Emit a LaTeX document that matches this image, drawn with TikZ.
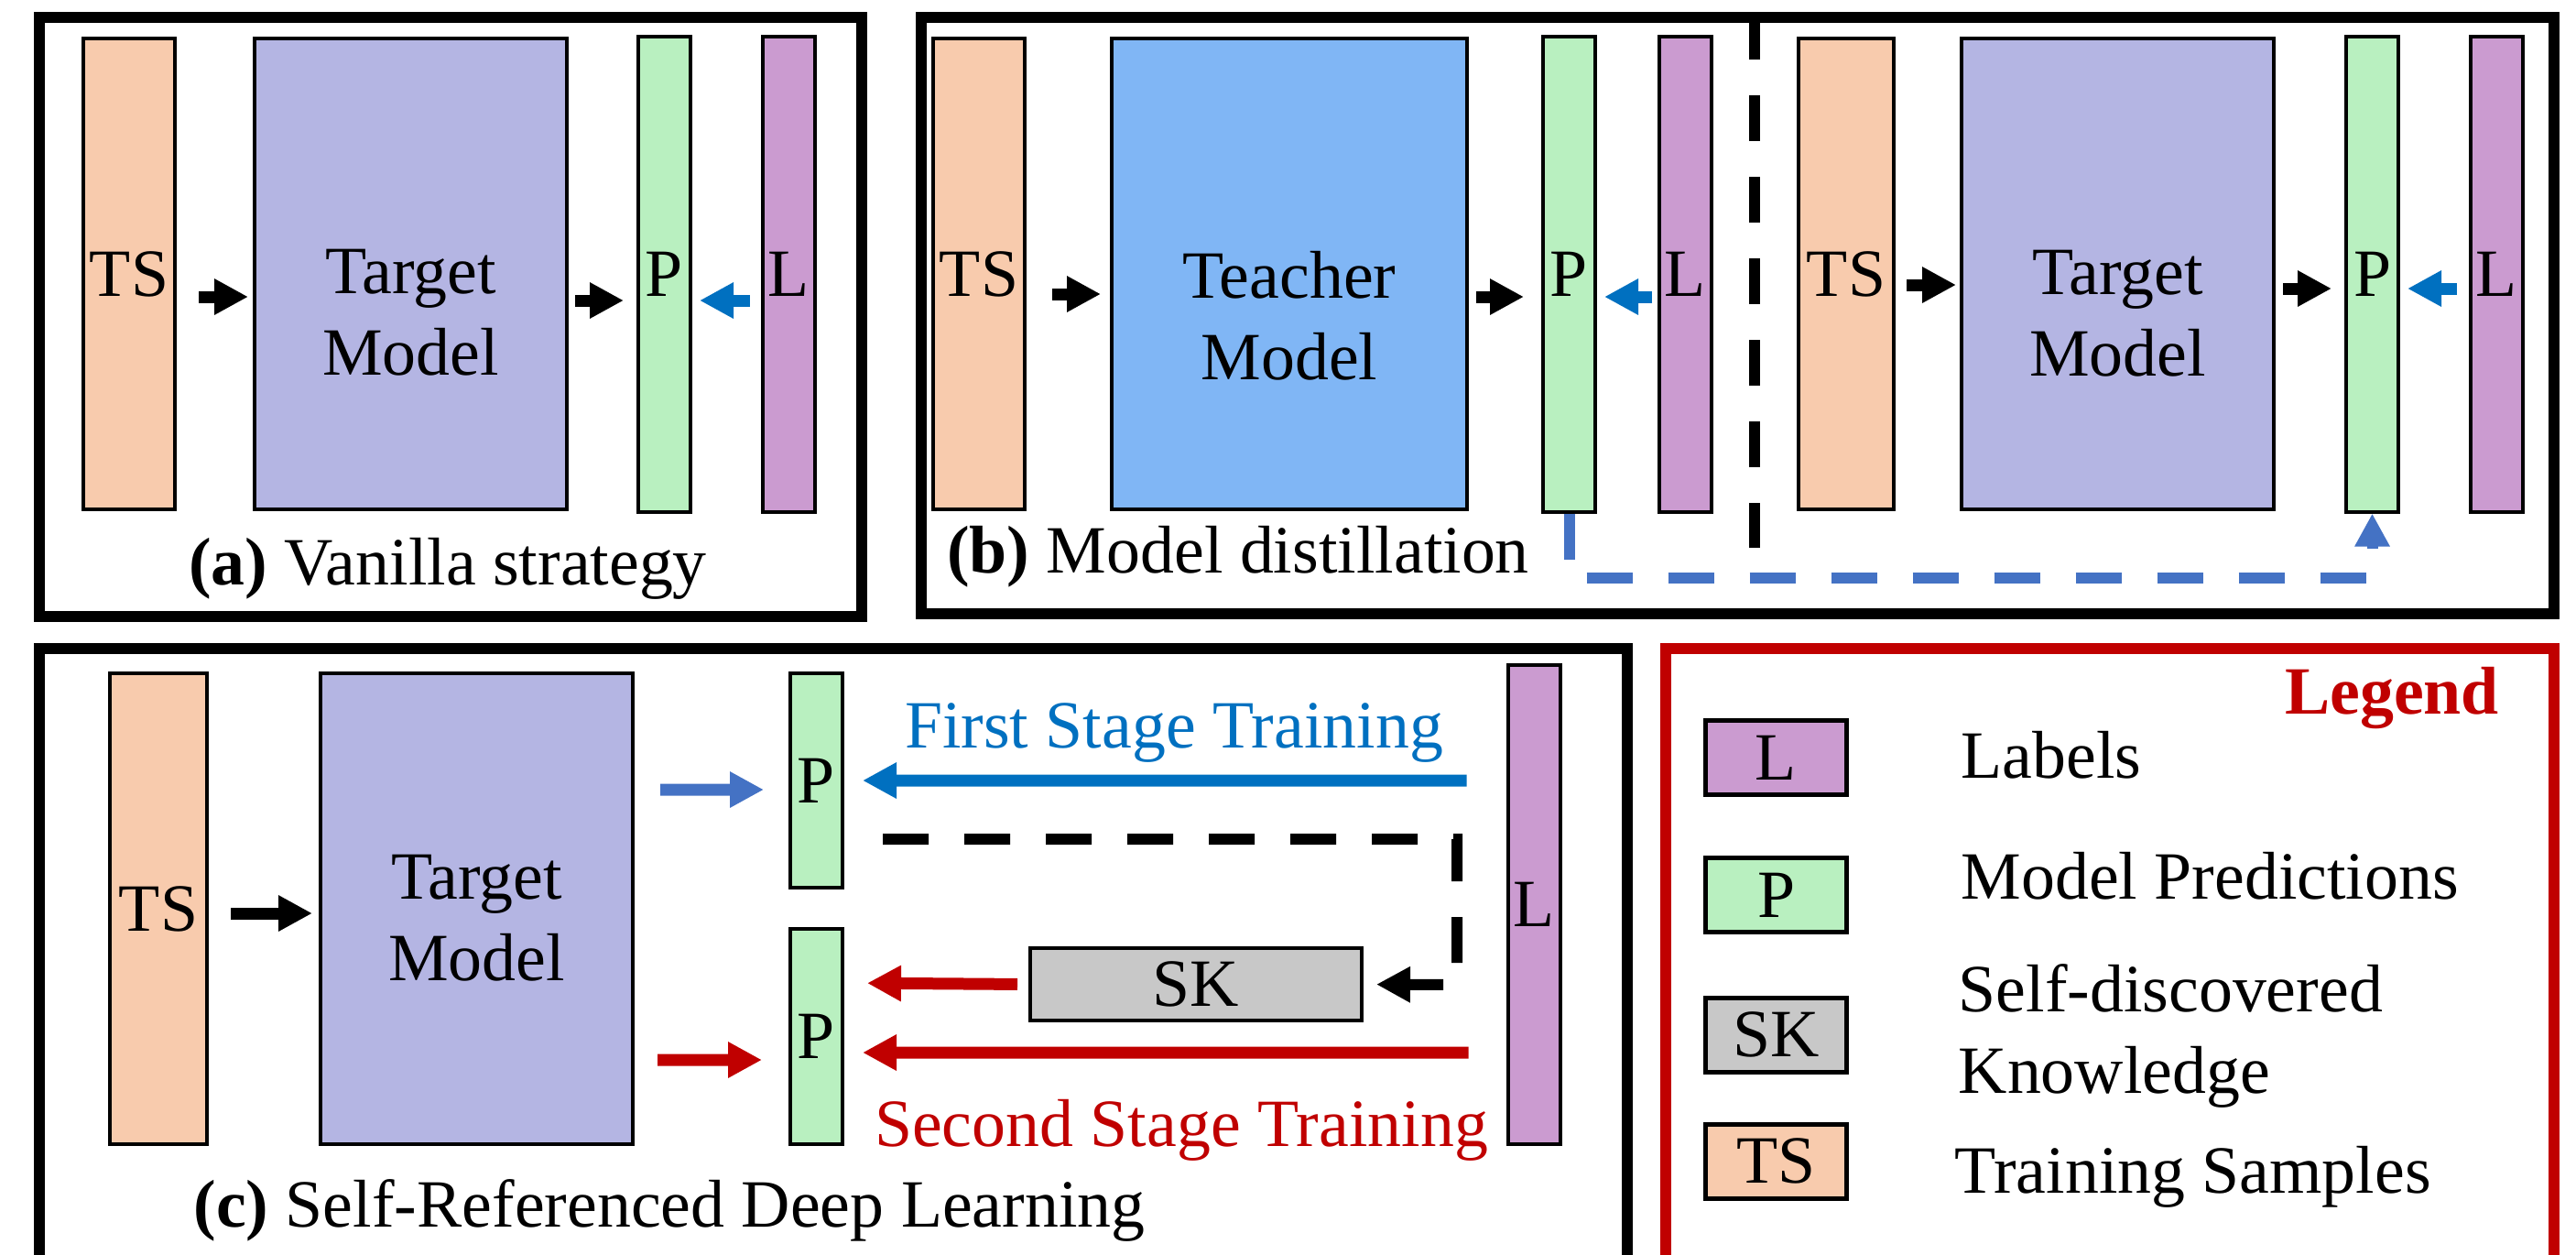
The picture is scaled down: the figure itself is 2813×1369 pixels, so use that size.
\documentclass[tikz,border=0pt]{standalone}
\usepackage{fontspec}
\setmainfont{Liberation Serif}
\usepackage{tikz}
\usetikzlibrary{shapes,arrows,arrows.meta}
\definecolor{tsfill}{RGB}{248,203,173}
\definecolor{modelfill}{RGB}{180,181,227}
\definecolor{teachfill}{RGB}{128,182,245}
\definecolor{predfill}{RGB}{185,240,192}
\definecolor{labfill}{RGB}{203,155,208}
\definecolor{skfill}{RGB}{200,200,200}
\definecolor{arrblue}{RGB}{0,112,192}
\definecolor{dashblue}{RGB}{68,114,196}
\definecolor{legred}{RGB}{192,0,0}
\tikzstyle{box} = [rectangle, draw, line width=0.4mm, inner sep=0pt, minimum height=51.4mm]
\tikzstyle{ts} = [box, fill=tsfill, minimum width=10mm]
\tikzstyle{model} = [box, fill=modelfill, minimum width=34.1mm]
\tikzstyle{teacher} = [box, fill=teachfill, minimum width=38.8mm]
\tikzstyle{pred} = [box, fill=predfill, minimum width=5.7mm, minimum height=51.9mm]
\tikzstyle{lab} = [box, fill=labfill, minimum width=5.7mm, minimum height=51.9mm]
\tikzstyle{lgd} = [box, line width=0.5mm, minimum width=15.4mm, minimum height=8.1mm]
\tikzstyle{txt} = [inner sep=0pt, align=center]
\tikzstyle{panel} = [draw, line width=1.2mm]
\tikzstyle{blk} = [draw, line width=1.3mm, -{Triangle[length=3.7mm, width=3.7mm]}]
\tikzstyle{blu} = [blk, draw=arrblue, fill=arrblue]
\tikzstyle{lblu} = [blk, draw=dashblue, fill=dashblue]
\tikzstyle{red_arr} = [blk, draw=legred, fill=legred]
\tikzstyle{dash_line} = [draw, line width=1.2mm, dash pattern=on 5mm off 3.9mm]
\tikzstyle{dist_line} = [dash_line, draw=dashblue, -{Triangle[length=3.6mm, width=3.6mm]}]
\tikzstyle{sk_line} = [dash_line, -{Triangle[length=3.7mm, width=3.7mm]}]

\begin{document}
\begin{tikzpicture}[x=0.1mm, y=-0.1mm, every node/.style={font=\fontsize{21}{25.2}\selectfont}]
	\useasboundingbox (0,0) rectangle (2813,1369);
	\clip (0,0) rectangle (2813,1369);

	\draw [panel] (43,19) rectangle (941,673);
	\draw [panel] (1006,19) rectangle (2789,670);
	\draw [panel] (43,708) rectangle (1777,1420);
	\draw [panel, draw=legred] (1819,708) rectangle (2789,1420);

	\node [ts] (ts_a) at (141,299) {TS};
	\node [model, right of=ts_a, node distance=30.75mm] (tm_a) {};
	\node [txt, below of=tm_a, node distance=4.2mm] (tm_a_txt) {Target\\Model};
	\node [pred, right of=tm_a, node distance=27.7mm] (p_a) {P};
	\node [lab, right of=p_a, node distance=13.55mm] (l_a) {L};
	\node [txt, anchor=base] (cap_a) at (489,638) {\textbf{(a)} Vanilla strategy};

	\path [blk, shorten <=2.4mm, shorten >=0.5mm] ([yshift=-2.5mm]ts_a.east) to ([yshift=-2.5mm]tm_a.west);
	\path [blk, shorten <=0.7mm, shorten >=1.4mm] ([yshift=-2.9mm]tm_a.east) to ([yshift=-2.9mm]p_a.west);
	\path [blu, shorten <=1.2mm, shorten >=0.8mm] ([yshift=-2.9mm]l_a.west) to ([yshift=-2.9mm]p_a.east);

	\node [ts] (ts_b) at (1069,299) {TS};
	\node [teacher, right of=ts_b, node distance=33.9mm] (tc_b) {};
	\node [txt, below of=tc_b, node distance=4.6mm] (tc_b_txt) {Teacher\\Model};
	\node [pred, right of=tc_b, node distance=30.55mm] (p_b) {P};
	\node [lab, right of=p_b, node distance=12.7mm] (l_b) {L};
	\node [ts, right of=l_b, node distance=17.55mm, minimum width=10.4mm] (ts_b2) {TS};
	\node [model, right of=ts_b2, node distance=29.65mm] (tm_b2) {};
	\node [txt, below of=tm_b2, node distance=4.3mm] (tm_b2_txt) {Target\\Model};
	\node [pred, right of=tm_b2, node distance=27.8mm] (p_b2) {P};
	\node [lab, right of=p_b2, node distance=13.6mm] (l_b2) {L};
	\node [txt, anchor=base] (cap_b) at (1352,625) {\textbf{(b)} Model distillation};

	\draw [dash_line] (1916,15) -- (1916,598);

	\path [blk, shorten <=2.8mm, shorten >=1mm] ([yshift=-2.2mm]ts_b.east) to ([yshift=-2.2mm]tc_b.west);
	\path [blk, shorten <=0.8mm, shorten >=1.9mm] ([yshift=-2.5mm]tc_b.east) to ([yshift=-2.5mm]p_b.west);
	\path [blu, shorten <=0.6mm, shorten >=0.8mm] ([yshift=-2.5mm]l_b.west) to ([yshift=-2.5mm]p_b.east);
	\path [blk, shorten <=1.2mm, shorten >=0.4mm] ([yshift=-1.2mm]ts_b2.east) to ([yshift=-1.2mm]tm_b2.west);
	\path [blk, shorten <=0.8mm, shorten >=1.4mm] ([yshift=-1.6mm]tm_b2.east) to ([yshift=-1.6mm]p_b2.west);
	\path [blu, shorten <=1.3mm, shorten >=0.8mm] ([yshift=-1.6mm]l_b2.west) to ([yshift=-1.6mm]p_b2.east);
	\path [dist_line] (p_b.south) -- ++(0,70) -| (p_b2.south);

	\node [ts, minimum width=10.6mm] (ts_c) at (173,992) {TS};
	\node [model, right of=ts_c, node distance=34.75mm] (tm_c) {};
	\node [txt, below of=tm_c, node distance=1mm] (tm_c_txt) {Target\\Model};
	\node [pred, minimum height=23.4mm] (pt_c) at (891.5,852) {P};
	\node [pred, minimum height=23.5mm, below of=pt_c, node distance=27.95mm] (pb_c) {P};
	\node [lab, minimum height=52.3mm] (l_c) at (1675,987.5) {L};
	\node [box, fill=skfill, minimum width=36.2mm, minimum height=7.9mm] (sk_c) at (1306,1074.5) {SK};
	\node [txt, anchor=base, text=arrblue] (first) at (1282,816) {First Stage Training};
	\node [txt, anchor=base, text=legred] (second) at (1290,1251) {Second Stage Training};
	\node [txt, anchor=base] (cap_c) at (731,1339) {\textbf{(c)} Self-Referenced Deep Learning};

	\path [blk, shorten <=2.4mm, shorten >=0.7mm] ([yshift=-0.5mm]ts_c.east) to ([yshift=-0.5mm]tm_c.west);
	\path [lblu, shorten <=2.8mm, shorten >=2.7mm] ([yshift=13mm]tm_c.east) to ([yshift=-1mm]pt_c.west);
	\path [red_arr, shorten <=2.5mm, shorten >=2.9mm] ([yshift=-16.5mm]tm_c.east) to ([yshift=-2.55mm]pb_c.west);
	\path [blu, shorten <=4.3mm, shorten >=2mm] ([yshift=13.55mm]l_c.west) to (pt_c.east);
	\path [red_arr, shorten <=4.1mm, shorten >=2mm] ([yshift=-16.15mm]l_c.west) to ([yshift=-1.75mm]pb_c.east);
	\path [red_arr, shorten <=1.2mm, shorten >=2.5mm] (sk_c.west) to ([yshift=5.85mm]pb_c.east);
	\coordinate (sk_from) at (964,916);
	\coordinate (sk_turn) at (1591,1075);
	\path [sk_line, shorten >=1.4mm] (sk_from) -| (sk_turn) to (sk_c.east);

	\node [txt, anchor=base, text=legred, font=\fontsize{21}{25.2}\selectfont\bfseries] (lg_title) at (2612,779) {Legend};
	\node [lgd, fill=labfill] (lg_l) at (1939.5,827) {L};
	\node [lgd, fill=predfill, below of=lg_l, node distance=15mm] (lg_p) {P};
	\node [lgd, fill=skfill, below of=lg_p, node distance=15.25mm] (lg_sk) {SK};
	\node [lgd, fill=tsfill, below of=lg_sk, node distance=13.8mm] (lg_ts) {TS};
	\node [txt, anchor=base west] (lg_l_txt) at (2141,849) {Labels};
	\node [txt, anchor=base west] (lg_p_txt) at (2141,981) {Model Predictions};
	\node [txt, anchor=west, align=left] (lg_sk_txt) at (2138,1131) {Self-discovered\\Knowledge};
	\node [txt, anchor=base west] (lg_ts_txt) at (2134,1302) {Training Samples};
\end{tikzpicture}
\end{document}
